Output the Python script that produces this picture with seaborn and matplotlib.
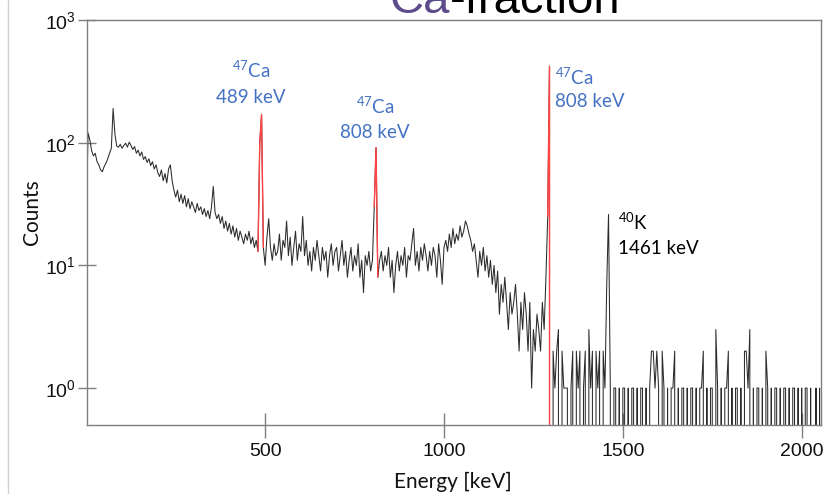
import numpy as np
import pandas as pd
import matplotlib
matplotlib.use("Agg")
import matplotlib.pyplot as plt
import seaborn as sns
from matplotlib.lines import Line2D
from matplotlib.ticker import NullLocator

# Gamma spectrum of the Ca fraction, 5 keV channels starting at 0 keV
channel_width = 5
counts_0_295 = [26, 120, 105, 86, 78, 82, 70, 66, 60, 58,
                64, 68, 74, 82, 90, 190, 118, 94, 92, 97,
                90, 95, 99, 92, 101, 95, 88, 93, 82, 87,
                78, 84, 73, 77, 69, 74, 65, 70, 61, 66,
                57, 53, 60, 49, 56, 47, 61, 66, 49, 41,
                36, 41, 33, 38, 32, 37, 30, 35, 29, 33]
counts_300_595 = [30, 27, 32, 28, 30, 26, 29, 25, 28, 24,
                  30, 44, 27, 24, 26, 22, 25, 20, 23, 19,
                  22, 18, 21, 17, 20, 16, 19, 17, 15, 18,
                  16, 19, 15, 17, 14, 16, 13, 100, 170, 14,
                  10, 17, 24, 14, 11, 15, 12, 13, 18, 11,
                  16, 14, 23, 12, 17, 10, 14, 19, 11, 15]
counts_600_895 = [13, 25, 12, 16, 10, 13, 9, 14, 11, 16,
                  12, 9, 14, 11, 13, 8, 12, 15, 10, 13,
                  14, 9, 12, 16, 10, 13, 8, 11, 14, 9,
                  12, 10, 15, 8, 11, 6, 12, 10, 13, 9,
                  11, 30, 91, 8, 11, 13, 9, 12, 10, 14,
                  8, 11, 6, 10, 13, 9, 12, 10, 14, 8]
counts_900_1195 = [12, 11, 15, 20, 10, 13, 9, 14, 11, 15,
                   12, 9, 13, 10, 14, 12, 8, 15, 11, 7,
                   14, 16, 13, 18, 14, 20, 15, 18, 16, 21,
                   17, 19, 23, 21, 18, 16, 13, 15, 11, 8,
                   13, 10, 14, 9, 12, 8, 11, 7, 10, 6,
                   9, 4, 7, 5, 8, 5, 3, 6, 4, 5]
counts_1200_1495 = [7, 4, 2, 5, 3, 6, 4, 2, 5, 1,
                    3, 2, 4, 3, 2, 5, 3, 8, 25, 420,
                    0, 2, 1, 2, 3, 0, 2, 1, 1, 1,
                    0, 1, 2, 0, 2, 1, 2, 0, 1, 2,
                    0, 3, 1, 2, 0, 2, 1, 2, 0, 2,
                    1, 7, 26, 1, 0, 1, 1, 0, 1, 0]
counts_1500_2055 = [1, 1, 0, 1, 0, 1, 1, 0, 1, 0,
                    1, 1, 0, 1, 0, 1, 2, 2, 1, 2,
                    1, 0, 2, 1, 0, 1, 0, 1, 1, 2,
                    0, 1, 0, 1, 1, 0, 1, 0, 1, 1,
                    0, 1, 0, 1, 1, 2, 0, 1, 0, 1,
                    1, 0, 3, 1, 0, 1, 0, 1, 1, 2,
                    0, 1, 0, 1, 1, 0, 1, 0, 2, 2,
                    1, 3, 0, 1, 0, 1, 1, 0, 1, 0,
                    2, 1, 0, 1, 0, 1, 1, 0, 1, 0,
                    1, 1, 0, 1, 0, 1, 1, 0, 1, 0,
                    1, 0, 1, 1, 0, 1, 0, 0, 1, 0,
                    1, 0]

# Channel windows of the 47Ca lines, highlighted in red
ca_windows = [(480, 495), (805, 815), (1290, 1300)]

# Peak annotations: (energy, upper line y, lower line y, isotope, energy text, align, colour)
labels = [
    (461, 392, 235, r"$^{47}$Ca", "489 keV", "center", "#4472c4"),
    (808, 199, 122, r"$^{47}$Ca", "808 keV", "center", "#4472c4"),
    (1311, 340, 215, r"$^{47}$Ca", "808 keV", "left", "#4472c4"),
    (1487, 22.6, 13.7, r"$^{40}$K", "1461 keV", "left", "#000000"),
]

counts = np.concatenate([counts_0_295, counts_300_595, counts_600_895,
                         counts_900_1195, counts_1200_1495, counts_1500_2055])
energy = np.arange(len(counts)) * channel_width
df = pd.DataFrame({"energy": energy, "counts": counts})

sns.set_theme(style="white")
plt.rcParams["font.family"] = ["Liberation Sans", "DejaVu Sans"]
plt.rcParams["mathtext.default"] = "regular"

W, H = 825, 494
fig = plt.figure(figsize=(W / 100, H / 100), dpi=100)
ax = fig.add_axes([87 / W, 1 - 425 / H, (821 - 87) / W, (425 - 20) / H])

sns.lineplot(data=df, x="energy", y="counts", ax=ax, color="#2b2b2b",
             lw=0.75, estimator=None, sort=False)
for lo, hi in ca_windows:
    sub = df[(df["energy"] >= lo) & (df["energy"] <= hi)]
    sns.lineplot(data=sub, x="energy", y="counts", ax=ax, color="#ff4444",
                 lw=1.0, estimator=None, sort=False)

ax.set_yscale("log")
ax.set_ylim(0.5, 1000)
ax.set_xlim(2, 2054)
ax.set_xticks([500, 1000, 1500, 2000])
ax.set_yticks([1, 10, 100, 1000])
ax.yaxis.set_minor_locator(NullLocator())
ax.set_xlabel("")
ax.set_ylabel("")

for s in ax.spines.values():
    s.set_visible(True)
    s.set_color("#7f7f7f")
    s.set_linewidth(1.0)
ax.tick_params(axis="x", direction="inout", length=18, width=1, color="#7f7f7f",
               labelsize=14, pad=4, labelcolor="#111111", bottom=True)
ax.tick_params(axis="y", direction="inout", length=13, width=1, color="#7f7f7f",
               labelsize=14, pad=1.5, labelcolor="#111111", left=True)

for x, y1, y2, iso, etxt, ha, col in labels:
    ax.text(x, y1, iso, ha=ha, va="center", color=col, fontsize=13.5, family="Lato")
    ax.text(x, y2, etxt, ha=ha, va="center", color=col, fontsize=13.5, family="Lato")

fig.text(453 / W, 1 - 488 / H, "Energy [keV]", ha="center", va="baseline",
         fontsize=15, family="Lato", color="#111111")
fig.text(32 / W, 1 - 212 / H, "Counts", ha="center", va="center", rotation=90,
         fontsize=15, family="Lato", color="#111111")

# Slide title, partly running off the top edge
t1 = fig.text(390 / W, 1 - 13 / H, "Ca", color="#5e4b8b", fontsize=34,
              va="baseline", ha="left")
fig.canvas.draw()
bb = t1.get_window_extent()
fig.text(bb.x1 / fig.bbox.width, 1 - 13 / H, "-fraction", color="#000000",
         fontsize=34, va="baseline", ha="left")

fig.add_artist(Line2D([7.5 / W, 7.5 / W], [0, 1], color="#d0d0d0", lw=1.0))

fig.savefig("out.png", dpi=100)
